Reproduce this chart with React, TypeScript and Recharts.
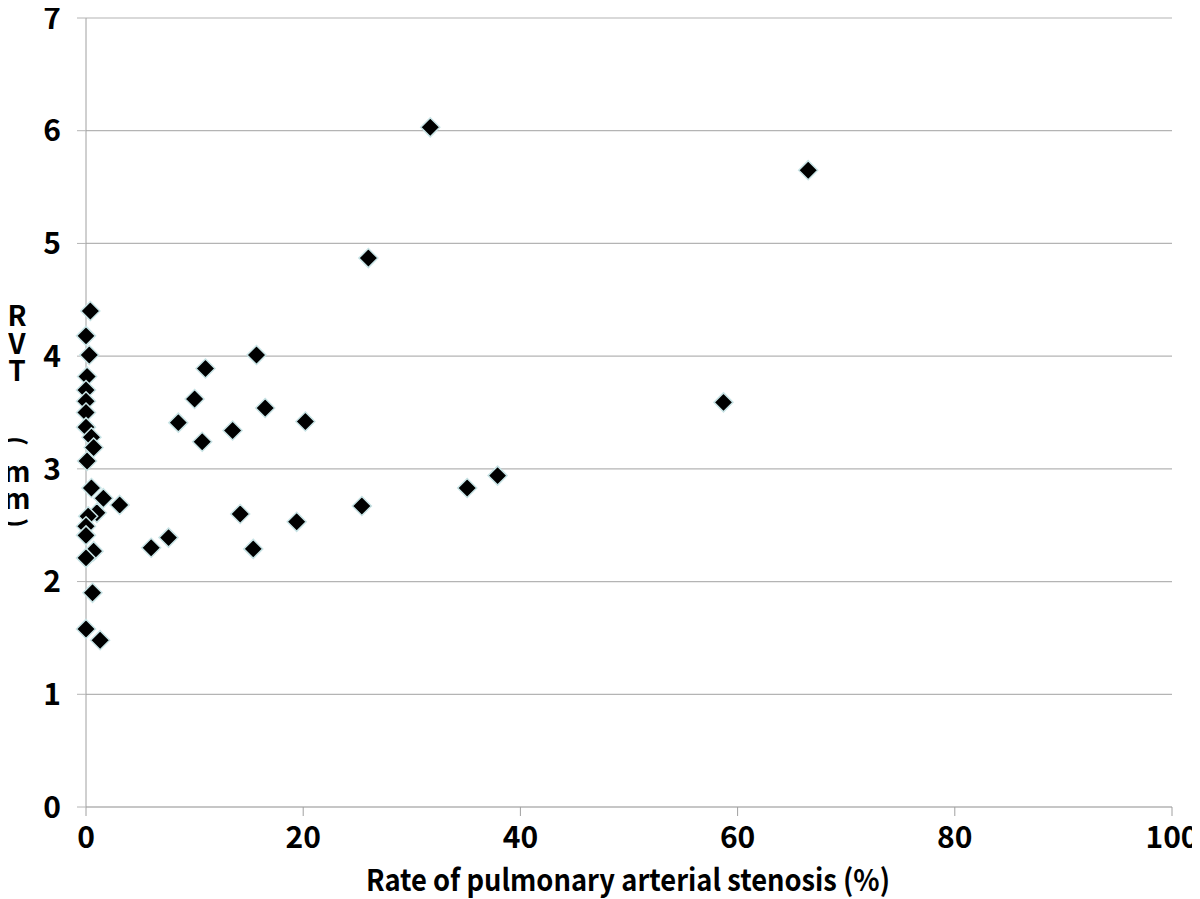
import React from "react";
import { ScatterChart, Scatter, XAxis, YAxis, CartesianGrid } from "recharts";

const stenosisRate: number[] = [
  31.7, 66.5, 26.0, 0.4, 0.0, 0.3, 15.7, 11.0, 0.1, 0.0, 10.0, 0.0, 58.7, 16.5, 0.0,
  8.5, 20.2, 0.0, 13.5, 0.5, 10.7, 0.7, 0.1, 37.9, 35.1, 0.5, 1.6, 3.1, 25.4, 14.2,
  1.0, 0.2, 19.4, 0.0, 7.6, 0.0, 6.0, 15.4, 0.7, 0.0, 0.6, 0.0, 1.3,
];
const rvt: number[] = [
  6.03, 5.65, 4.87, 4.4, 4.18, 4.01, 4.01, 3.89, 3.82, 3.7, 3.62, 3.6, 3.59, 3.54, 3.5,
  3.41, 3.42, 3.37, 3.34, 3.28, 3.24, 3.19, 3.07, 2.94, 2.83, 2.83, 2.74, 2.68, 2.67, 2.6,
  2.61, 2.58, 2.53, 2.49, 2.39, 2.41, 2.3, 2.29, 2.27, 2.21, 1.9, 1.58, 1.48,
];
const xTicks: number[] = [0, 20, 40, 60, 80, 100];
const yTicks: number[] = [0, 1, 2, 3, 4, 5, 6, 7];
const xTitle = "Rate of pulmonary arterial stenosis (%)";
const yTitleChars: string[] = ["R", "V", "T", "(", "m", "m", ")"];

const points = stenosisRate.map((x, i) => ({ x, y: rvt[i] }));

const font = "'Noto Sans CJK JP', 'Noto Sans', sans-serif";

const Diamond = (props: any) => {
  const { cx, cy } = props;
  const r = 9.5;
  return (
    <polygon
      points={`${cx},${cy - r} ${cx + r},${cy} ${cx},${cy + r} ${cx - r},${cy}`}
      fill="#000"
      stroke="#c9e4e6"
      strokeWidth={1.5}
    />
  );
};

const XTitle = (props: any) => {
  const vb = props.viewBox || { x: 0, y: 0, width: 0, height: 0 };
  return (
    <text
      x={vb.x + vb.width / 2 - 1}
      y={vb.y + 84}
      textAnchor="middle"
      fontFamily={font}
      fontWeight={700}
      fontSize={30}
      fill="#000"
      textLength={524}
      lengthAdjust="spacingAndGlyphs"
    >
      {xTitle}
    </text>
  );
};

const yCharPos: number[] = [314, 342, 369, 441, 470, 497, 523];

const YTitle = (props: any) => {
  const vb = props.viewBox || { x: 0, y: 0 };
  const cx = vb.x + 17;
  return (
    <g>
      {yTitleChars.map((c, i) => {
        const cy = vb.y + yCharPos[i] - 18;
        const isParen = c === "(" || c === ")";
        return (
          <text
            key={i}
            x={cx}
            y={cy}
            textAnchor="middle"
            dominantBaseline="central"
            fontFamily={font}
            fontWeight={700}
            fontSize={isParen ? 26 : 28}
            fill="#000"
            transform={isParen ? `rotate(90 ${cx} ${cy})` : undefined}
          >
            {c}
          </text>
        );
      })}
    </g>
  );
};

export default function App() {
  return (
    <div style={{ margin: "-8px 0 0 -8px", width: 1200, height: 899 }}>
      <ScatterChart
        width={1200}
        height={899}
        margin={{ top: 18, right: 28, left: 0, bottom: 0 }}
      >
        <CartesianGrid horizontal={true} vertical={false} stroke="#b4b4b4" strokeWidth={1.2} />
        <XAxis
          type="number"
          dataKey="x"
          domain={[0, 100]}
          ticks={xTicks}
          interval={0}
          height={92}
          tickSize={9}
          tickMargin={11}
          axisLine={{ stroke: "#b4b4b4", strokeWidth: 1.2 }}
          tickLine={{ stroke: "#a0a0a0" }}
          tick={{ fill: "#000", fontSize: 30, fontFamily: font, fontWeight: 700 }}
          label={<XTitle />}
        />
        <YAxis
          type="number"
          dataKey="y"
          domain={[0, 7]}
          ticks={yTicks}
          interval={0}
          width={86}
          tickSize={9}
          tickMargin={16}
          axisLine={{ stroke: "#a0a0a0" }}
          tickLine={{ stroke: "#b4b4b4" }}
          tick={{ fill: "#000", fontSize: 30, fontFamily: font, fontWeight: 700 }}
          label={<YTitle />}
        />
        <Scatter data={points} shape={<Diamond />} isAnimationActive={false} />
      </ScatterChart>
    </div>
  );
}
